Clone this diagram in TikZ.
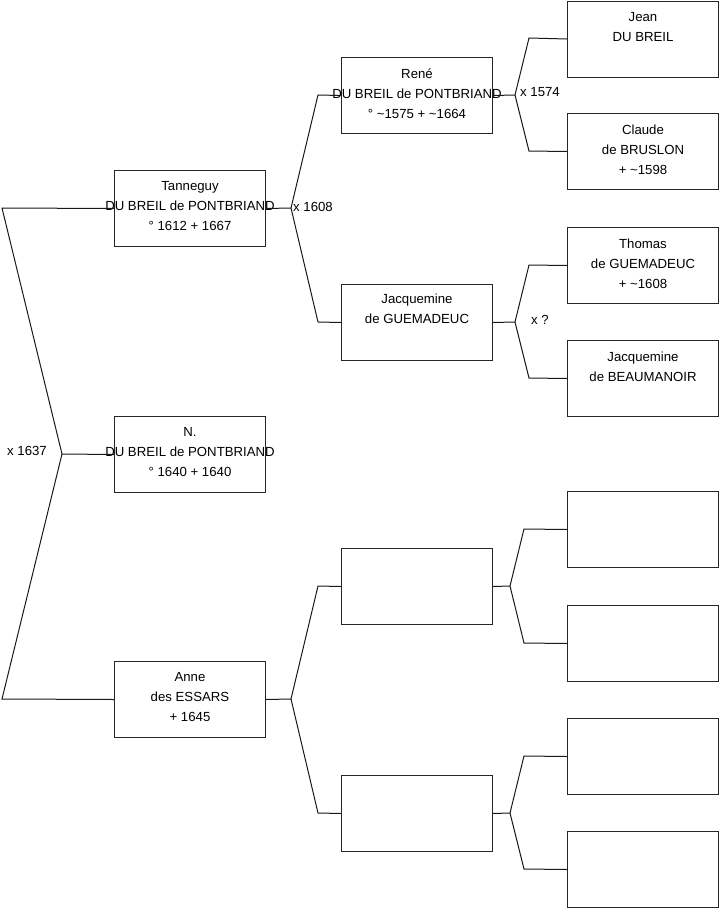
\documentclass[tikz,border=0pt]{standalone}
\usepackage{fontspec}
\setmainfont{Liberation Sans}
\newcommand{\tl}{\textasciitilde}
\begin{document}
\begin{tikzpicture}[x=1pt,y=-1pt,
  box/.style={draw=black!85, line width=1pt, minimum width=151pt, minimum height=76pt, inner sep=0pt, anchor=north west},
  txt/.style={anchor=north, align=center, inner sep=0pt, font=\fontsize{13.2}{20}\selectfont, execute at begin node=\strut},
  lbl/.style={anchor=west, inner sep=0pt, font=\fontsize{13.2}{15}\selectfont},
  conn/.style={line width=1pt, draw=black!90}]
\useasboundingbox (0,0) rectangle (719,908);
% column 1
\node[box] (tan) at (114,170) {};
\node[box] (n) at (114,416) {};
\node[box] (anne) at (114,661) {};
% column 2
\node[box] (rene) at (341,57) {};
\node[box] (jacg) at (341,284) {};
\node[box] (e1) at (341,548) {};
\node[box] (e2) at (341,775) {};
% column 3
\node[box] (jean) at (567,0.5) {};
\node[box] (claude) at (567,113) {};
\node[box] (thomas) at (567,227) {};
\node[box] (jacb) at (567,340) {};
\node[box] (f1) at (567,491) {};
\node[box] (f2) at (567,605) {};
\node[box] (f3) at (567,718) {};
\node[box] (f4) at (567,831) {};
% texts
\node[txt] (tan-t) at ([yshift=-11.5pt]tan.north) {Tanneguy\\DU BREIL de PONTBRIAND\\° 1612 + 1667};
\node[txt] (n-t) at ([yshift=-11.5pt]n.north) {N.\\DU BREIL de PONTBRIAND\\° 1640 + 1640};
\node[txt] (anne-t) at ([yshift=-11.5pt]anne.north) {Anne\\des ESSARS\\+ 1645};
\node[txt] (rene-t) at ([yshift=-11.5pt]rene.north) {René\\DU BREIL de PONTBRIAND\\° \tl1575 + \tl1664};
\node[txt] (jacg-t) at ([yshift=-10pt]jacg.north) {Jacquemine\\de GUEMADEUC};
\node[txt] (jean-t) at ([yshift=-11.5pt]jean.north) {Jean\\DU BREIL};
\node[txt] (claude-t) at ([yshift=-11.5pt]claude.north) {Claude\\de BRUSLON\\+ \tl1598};
\node[txt] (thomas-t) at ([yshift=-11.5pt]thomas.north) {Thomas\\de GUEMADEUC\\+ \tl1608};
\node[txt] (jacb-t) at ([yshift=-11.5pt]jacb.north) {Jacquemine\\de BEAUMANOIR};
% fork coordinates
\coordinate (a0) at (2,208);
\coordinate (a1) at (62,454);
\coordinate (a2) at (2,699);
\coordinate (b) at (291,208);
\coordinate (b1) at (318,95);
\coordinate (b2) at (318,322);
\coordinate (c) at (515,95);
\coordinate (c1) at (529,38);
\coordinate (c2) at (529,151);
\coordinate (d) at (515,322);
\coordinate (d1) at (529,265);
\coordinate (d2) at (529,378);
\coordinate (g) at (291,699);
\coordinate (g1) at (318,586);
\coordinate (g2) at (318,813);
\coordinate (h) at (510,586);
\coordinate (h1) at (524,529);
\coordinate (h2) at (524,643);
\coordinate (k) at (510,813);
\coordinate (k1) at (524,756);
\coordinate (k2) at (524,869);
% connectors
\draw[conn] (tan.west) -- (a0) -- (a1) -- (a2) -- (anne.west);
\draw[conn] (a1) -- (n.west);
\draw[conn] (tan.east) -- (b);
\draw[conn] (rene.west) -- (b1) -- (b) -- (b2) -- (jacg.west);
\draw[conn] (rene.east) -- (c);
\draw[conn] (jean.west) -- (c1) -- (c) -- (c2) -- (claude.west);
\draw[conn] (jacg.east) -- (d);
\draw[conn] (thomas.west) -- (d1) -- (d) -- (d2) -- (jacb.west);
\draw[conn] (anne.east) -- (g);
\draw[conn] (e1.west) -- (g1) -- (g) -- (g2) -- (e2.west);
\draw[conn] (e1.east) -- (h);
\draw[conn] (f1.west) -- (h1) -- (h) -- (h2) -- (f2.west);
\draw[conn] (e2.east) -- (k);
\draw[conn] (f3.west) -- (k1) -- (k) -- (k2) -- (f4.west);
% marriage labels
\node[lbl] (m1637) at (7,451) {x 1637};
\node[lbl] (m1608) at (293,207) {x 1608};
\node[lbl] (m1574) at (520,92) {x 1574};
\node[lbl] (mq) at (531,320) {x ?};
\end{tikzpicture}
\end{document}
